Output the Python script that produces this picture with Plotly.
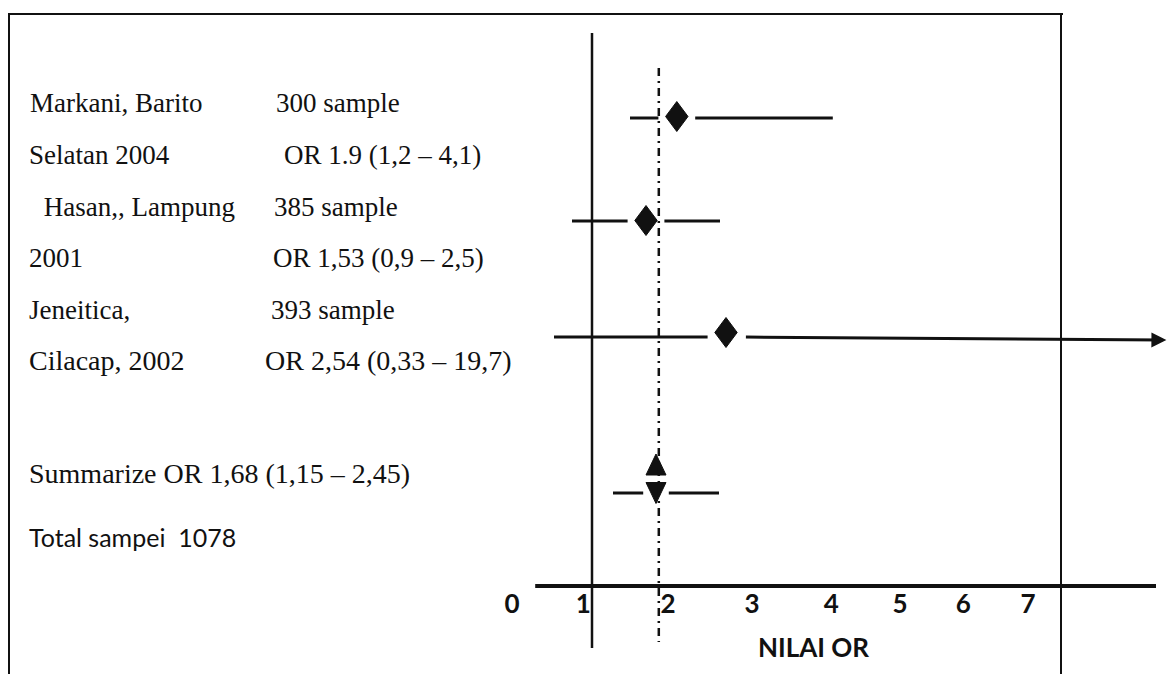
import plotly.graph_objects as go

# ---------------- data ----------------
label_line1 = ["Markani, Barito", " Hasan,, Lampung", "Jeneitica,"]
label_line2 = ["Selatan 2004", "2001", "Cilacap, 2002"]
sample_text = ["300 sample", "385 sample", "393 sample"]
or_text = ["OR 1.9 (1,2 \u2013 4,1)", "OR 1,53 (0,9 \u2013 2,5)", "OR 2,54 (0,33 \u2013 19,7)"]

# positions on the drawn OR axis
point_or = [2.06, 1.675, 2.675]
ci_low = [1.475, 0.75, 0.525]
ci_high = [4.01, 2.60, 19.7]
row_y = [1.18, 2.21, 3.37]          # study rows (top to bottom)
point_y = [1.165, 2.205, 3.325]

summary_or = 1.80
summary_low = 1.2625
summary_high = 2.5875
summary_y = 4.93
summary_up_y = 4.645
pooled_line = 1.835

summary_text = "Summarize OR 1,68 (1,15 \u2013 2,45)"
total_text = "Total sampei  1078"

tick_pos = [0.0, 0.89, 1.95, 3.0, 3.99, 4.85, 5.64, 6.45]
tick_text = ["0", "1", "2", "3", "4", "5", "6", "7"]
axis_title = "NILAI OR"

# ---------------- style ----------------
W, H = 1168, 674
X_RANGE = [-6.4, 8.2]
Y_RANGE = [6.74, 0]
AXIS_END = 8.18
AXIS_START = 0.29
AXIS_Y = 5.86
GAP = 0.23
DIA_HW, DIA_HH = 0.14, 0.15
TRI_HW, TRI_HH = 0.125, 0.105
SUM_GAP = 0.16
BLACK = "#111111"
SERIF = "Liberation Serif"
SANS = "Lato"


def px(x):
    return x / W


def py(y):
    return 1 - y / H


fig = go.Figure()

# CI segments with a gap around each diamond
seg_x, seg_y = [], []
arrows = []
for p, lo, hi, y in zip(point_or, ci_low, ci_high, row_y):
    seg_x += [lo, p - GAP, None]
    seg_y += [y, y, None]
    if hi > AXIS_END:
        arrows.append((p + GAP, y))
    else:
        seg_x += [p + GAP, hi, None]
        seg_y += [y, y, None]
fig.add_trace(go.Scatter(x=seg_x, y=seg_y, mode="lines",
                         line=dict(color=BLACK, width=3), hoverinfo="skip"))

# diamonds
dx, dy = [], []
for p, y in zip(point_or, point_y):
    dx += [p - DIA_HW, p, p + DIA_HW, p, p - DIA_HW, None]
    dy += [y, y - DIA_HH, y, y + DIA_HH, y, None]
fig.add_trace(go.Scatter(x=dx, y=dy, mode="lines", fill="toself",
                         fillcolor=BLACK, line=dict(color=BLACK, width=1),
                         hoverinfo="skip"))

# summary line
fig.add_trace(go.Scatter(
    x=[summary_low, summary_or - SUM_GAP, None, summary_or + SUM_GAP, summary_high],
    y=[summary_y, summary_y, None, summary_y, summary_y],
    mode="lines", line=dict(color=BLACK, width=3), hoverinfo="skip"))

# summary triangles
tx = [summary_or - TRI_HW, summary_or + TRI_HW, summary_or, summary_or - TRI_HW, None,
      summary_or - TRI_HW, summary_or + TRI_HW, summary_or, summary_or - TRI_HW]
ty = [summary_up_y + TRI_HH, summary_up_y + TRI_HH, summary_up_y - TRI_HH, summary_up_y + TRI_HH, None,
      summary_y - TRI_HH, summary_y - TRI_HH, summary_y + TRI_HH, summary_y - TRI_HH]
fig.add_trace(go.Scatter(x=tx, y=ty, mode="lines", fill="toself",
                         fillcolor=BLACK, line=dict(color=BLACK, width=1),
                         hoverinfo="skip"))

shapes = [
    # OR axis line
    dict(type="line", xref="x", yref="y", x0=AXIS_START, x1=8.05, y0=AXIS_Y, y1=AXIS_Y,
         line=dict(color=BLACK, width=4)),
    # null line at OR = 1
    dict(type="line", xref="x", yref="y", x0=1, x1=1, y0=0.33, y1=6.48,
         line=dict(color=BLACK, width=2.5)),
    # pooled estimate dash-dot line
    dict(type="line", xref="x", yref="y", x0=pooled_line, x1=pooled_line, y0=0.68, y1=6.42,
         line=dict(color=BLACK, width=2.5, dash="8px,5px,2px,5px")),
    # frame
    dict(type="line", xref="paper", yref="paper", x0=px(8), x1=px(1063), y0=py(14), y1=py(14),
         line=dict(color=BLACK, width=2)),
    dict(type="line", xref="paper", yref="paper", x0=px(9), x1=px(9), y0=py(14), y1=0,
         line=dict(color=BLACK, width=2)),
    dict(type="line", xref="paper", yref="paper", x0=px(1061), x1=px(1061), y0=py(14), y1=0,
         line=dict(color=BLACK, width=2)),
]

annotations = []
for (ax_, ay_) in arrows:
    annotations.append(dict(x=AXIS_END, y=ay_ + 0.03, ax=ax_, ay=ay_, xref="x", yref="y",
                            axref="x", ayref="y", text="", showarrow=True,
                            arrowhead=2, arrowsize=1, arrowwidth=3, arrowcolor=BLACK))


def txt(s, x, y, family=SERIF, size=27, bold=False):
    annotations.append(dict(text=s, x=px(x - 2), y=py(y), xref="paper", yref="paper",
                            xanchor="left", yanchor="middle", showarrow=False,
                            font=dict(family=family, size=size, color=BLACK,
                                      weight="bold" if bold else "normal")))


col1_x = [30, 37, 29]
col2_x = [29, 29, 29]
samp_x = [276, 274, 271]
or_x = [284, 273, 265]
l1_y = [103, 207, 310]
l2_y = [155, 258, 360]
row_size = [27, 27, 28]
for i in range(3):
    txt(label_line1[i], col1_x[i], l1_y[i])
    txt(label_line2[i], col2_x[i], l2_y[i], size=row_size[i])
    txt(sample_text[i], samp_x[i], l1_y[i])
    txt(or_text[i], or_x[i], l2_y[i], size=row_size[i])
txt(summary_text, 29, 473, size=28)
txt(total_text, 29, 537, family=SANS, size=25)

annotations.append(dict(text=axis_title, x=px(813), y=py(647), xref="paper", yref="paper",
                        xanchor="center", yanchor="middle", showarrow=False,
                        font=dict(family=SANS, size=26, color=BLACK, weight="bold")))

fig.update_layout(
    width=W, height=H,
    margin=dict(l=0, r=0, t=0, b=0),
    paper_bgcolor="white", plot_bgcolor="white",
    showlegend=False,
    shapes=shapes,
    annotations=annotations,
    xaxis=dict(range=X_RANGE, tickvals=tick_pos, ticktext=tick_text,
               anchor="free", position=py(586), showline=False, showgrid=False,
               zeroline=False, ticks="", fixedrange=True,
               tickfont=dict(family=SANS, size=26, color=BLACK, weight="bold")),
    yaxis=dict(range=Y_RANGE, visible=False, showgrid=False, zeroline=False, fixedrange=True),
)

fig.write_html("out.html")
